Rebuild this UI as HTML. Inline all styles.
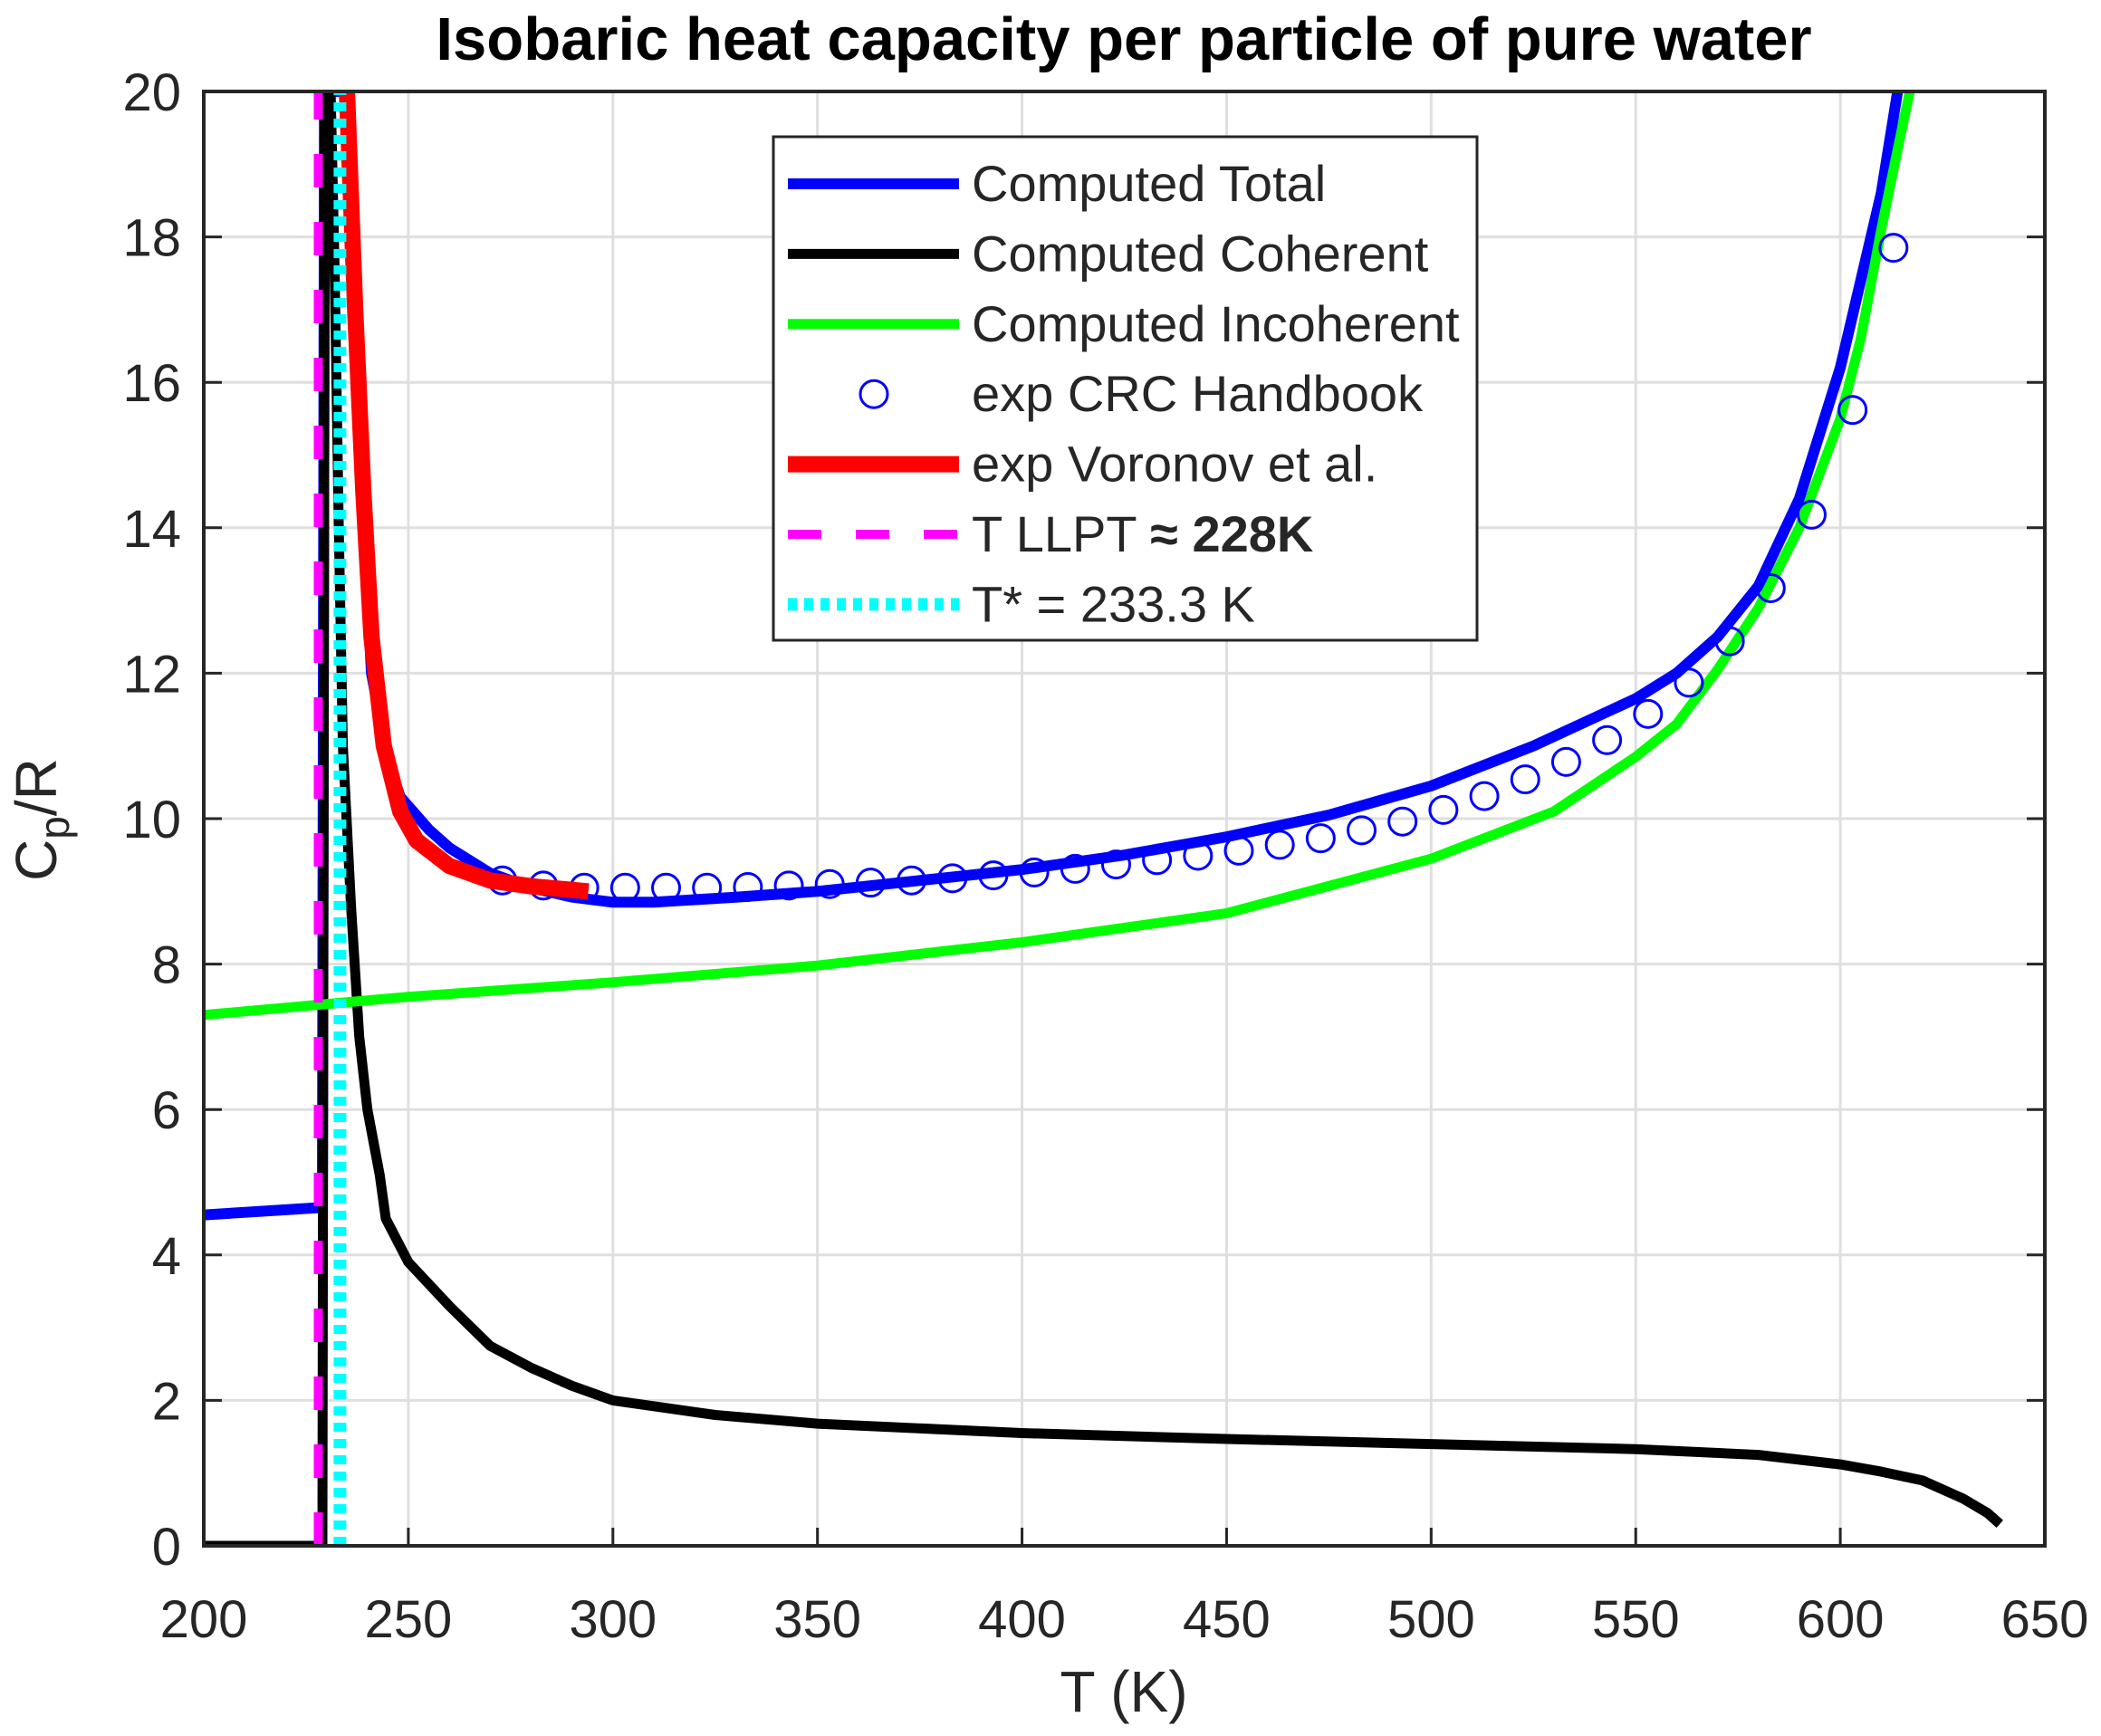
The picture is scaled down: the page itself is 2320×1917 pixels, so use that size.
<!DOCTYPE html>
<html><head><meta charset="utf-8"><style>
html,body{margin:0;padding:0;background:#fff}
svg text{font-family:"Liberation Sans",Arial,sans-serif;fill:#262626}
</style></head><body>
<svg id="chart" xmlns="http://www.w3.org/2000/svg" width="2320" height="1912" viewBox="0 0 2320 1912">
<rect width="2320" height="1912" fill="#fff"/>
<g id="grid"></g>
<g id="series"></g>
<g id="axes"></g>
<text x="1241" y="66" text-anchor="middle" font-size="67" font-weight="bold" style="fill:#000">Isobaric heat capacity per particle of pure water</text>
<text x="1241" y="1890" text-anchor="middle" font-size="64">T (K)</text>
<text transform="translate(62,905) rotate(-90)" text-anchor="middle" font-size="64">C<tspan font-size="46" dy="14">p</tspan><tspan dy="-14">/R</tspan></text>
<g id="legend"></g>
</svg>
<script>
const xTicks=[200,250,300,350,400,450,500,550,600,650];
const yTicks=[0,2,4,6,8,10,12,14,16,18,20];
const totalT=[200,228,229,229.5,235,238,241,245,248,255,260,270,280,290,300,310,330,350,375,400,425,450,475,500,525,550,560,570,580,590,600,605,610,614];
const totalV=[4.55,4.65,4.65,20,20,15,12,10.8,10.3,9.85,9.6,9.25,9.05,8.92,8.85,8.85,8.92,9.0,9.15,9.3,9.5,9.75,10.05,10.45,11.0,11.65,12.0,12.5,13.2,14.4,16.2,17.4,18.6,20];
const cohT=[200,229,229.6,231,232,233,234,236,238,240,243,244.5,250,260,270,280,290,300,325,350,400,450,500,550,580,600,610,620,630,636,639];
const cohV=[0,0,20,20,17.5,14,11,8.8,7,6,5.1,4.5,3.9,3.3,2.75,2.45,2.2,2.0,1.8,1.68,1.55,1.47,1.4,1.33,1.25,1.12,1.02,0.9,0.65,0.45,0.3];
const incT=[200,250,300,350,400,450,500,530,550,560,570,580,590,600,605,610,614,617];
const incV=[7.3,7.55,7.75,7.98,8.3,8.7,9.45,10.1,10.85,11.3,12.05,12.9,14.0,15.5,16.6,18.1,19.2,20];
const crcT=[273,283,293,303,313,323,333,343,353,363,373,383,393,403,413,423,433,443,453,463,473,483,493,503,513,523,533,543,553,563,573,583,593,603,613];
const crcV=[9.15,9.08,9.05,9.05,9.05,9.05,9.06,9.08,9.1,9.12,9.15,9.18,9.22,9.26,9.31,9.37,9.43,9.49,9.56,9.64,9.73,9.84,9.96,10.12,10.31,10.54,10.78,11.08,11.44,11.87,12.44,13.17,14.18,15.62,17.85];
const vorT=[235,237,239,241,244,248,252,260,270,280,294];
const vorV=[20,17,14.5,12.5,11,10.1,9.7,9.35,9.15,9.07,9.0];
const tLLPT=[228];
const tStar=[233.3];

const L=225,R=2258,T=101,B=1707;
const X=v=>L+(v-200)/(650-200)*(R-L);
const Y=v=>B-(v-0)/(20-0)*(B-T);
const NS="http://www.w3.org/2000/svg";
function mk(tag,parent,attrs){const e=document.createElementNS(NS,tag);for(const k in attrs)e.setAttribute(k,attrs[k]);parent.appendChild(e);return e;}
const grid=document.getElementById('grid'),axes=document.getElementById('axes'),ser=document.getElementById('series'),leg=document.getElementById('legend');
xTicks.forEach(t=>{
  const g=mk('line',grid,{x1:X(t),x2:X(t),y1:T,y2:B,stroke:'#dfdfdf','stroke-width':3});
  
  
  const tk=mk('line',axes,{x1:X(t),x2:X(t),y1:B,y2:B-20,stroke:'#262626','stroke-width':3});
  
  
  const tx=mk('text',axes,{x:X(t),y:1808,'text-anchor':'middle','font-size':58});
  tx.textContent=t;
  
  
});
yTicks.forEach(t=>{
  const g=mk('line',grid,{x1:L,x2:R,y1:Y(t),y2:Y(t),stroke:'#dfdfdf','stroke-width':3});
  
  
  const tk=mk('line',axes,{x1:L,x2:L+20,y1:Y(t),y2:Y(t),stroke:'#262626','stroke-width':3});
  
  
  const tk2=mk('line',axes,{x1:R,x2:R-20,y1:Y(t),y2:Y(t),stroke:'#262626','stroke-width':3});
  
  
  const tx=mk('text',axes,{x:200,y:Y(t)+21,'text-anchor':'end','font-size':58});
  tx.textContent=t;
  
  
});
const fr=mk('rect',axes,{x:L,y:T,width:R-L,height:B-T,fill:'none',stroke:'#262626','stroke-width':4});



const clip=mk('clipPath',ser,{id:'pc'});mk('rect',clip,{x:L,y:T,width:R-L,height:B-T});
function line(xs,ys,color,w,name,extra){
  const d=xs.map((x,i)=>(i?'L':'M')+X(x).toFixed(1)+','+Y(ys[i]).toFixed(1)).join('');
  const p=mk('path',ser,Object.assign({d:d,fill:'none',stroke:color,'stroke-width':w,'stroke-linejoin':'round','clip-path':'url(#pc)'},extra||{}));
  
  
}
line(totalT,totalV,'#0000ff',12,'computed-total-line');
line(cohT,cohV,'#000',11,'computed-coherent-line');
line(incT,incV,'#00ff00',11,'computed-incoherent-line');
crcT.forEach((t,i)=>{
  const c=mk('circle',ser,{cx:X(t),cy:Y(crcV[i]),r:15,fill:'none',stroke:'#0000ff','stroke-width':3});
  
  
});
line(vorT,vorV,'#ff0000',18,'voronov-line',{'stroke-linecap':'butt'});
tLLPT.forEach(t=>line([t,t],[0,20],'#ff00ff',10,'t-llpt-line',{'stroke-dasharray':'37 38'}));
tStar.forEach(t=>line([t,t],[0,20],'#00ffff',14,'t-star-line',{'stroke-dasharray':'10 8'}));

// legend
const lb=mk('rect',leg,{x:854,y:151,width:777,height:556,fill:'#fff',stroke:'#262626','stroke-width':3});


const entries=[
 ['Computed Total','line','#0000ff',12,''],
 ['Computed Coherent','line','#000',11,''],
 ['Computed Incoherent','line','#00ff00',11,''],
 ['exp CRC Handbook','circle','#0000ff',3,''],
 ['exp Voronov et al.','line','#ff0000',18,''],
 ['T LLPT ','line','#ff00ff',10,'37 38'],
 ['T* = 233.3 K','line','#00ffff',14,'10 8']];
entries.forEach((e,i)=>{
  const y=203+i*77.4;
  const g=mk('g',leg,{});
  
  
  if(e[1]==='line') mk('line',g,{x1:870,x2:1059,y1:y,y2:y,stroke:e[2],'stroke-width':e[3],'stroke-dasharray':e[4]||'none'});
  else mk('circle',g,{cx:965,cy:y,r:15,fill:'none',stroke:e[2],'stroke-width':3});
  const t=mk('text',g,{x:1073,y:y+19,'font-size':56});
  t.textContent=e[0];
  if(i===5){const s=mk('tspan',t,{'font-weight':'bold'});s.textContent='\u2248 228K';}
});
</script>
</body></html>
